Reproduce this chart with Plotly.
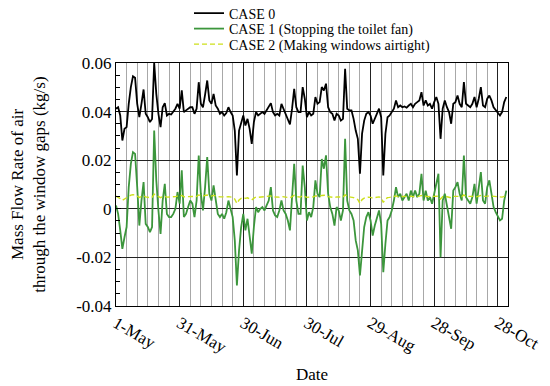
import plotly.graph_objects as go
import pandas as pd

start_date = "2013-05-01"

case0 = [0.0412, 0.0418, 0.0384, 0.0281, 0.0329, 0.0336, 0.0432, 0.0501, 0.0545, 0.0539,
         0.0432, 0.0377, 0.0432, 0.0491, 0.0391, 0.0377, 0.0357, 0.0370, 0.0600, 0.0473,
         0.0391, 0.0336, 0.0418, 0.0435, 0.0384, 0.0391, 0.0388, 0.0398, 0.0412, 0.0432,
         0.0412, 0.0487, 0.0398, 0.0405, 0.0412, 0.0418, 0.0418, 0.0391, 0.0412, 0.0521,
         0.0432, 0.0418, 0.0470, 0.0528, 0.0446, 0.0432, 0.0473, 0.0425, 0.0412, 0.0391,
         0.0398, 0.0384, 0.0394, 0.0418, 0.0398, 0.0384, 0.0322, 0.0137, 0.0322, 0.0357,
         0.0384, 0.0343, 0.0370, 0.0329, 0.0267, 0.0357, 0.0398, 0.0384, 0.0391, 0.0398,
         0.0391, 0.0407, 0.0425, 0.0435, 0.0398, 0.0384, 0.0391, 0.0384, 0.0432, 0.0412,
         0.0391, 0.0370, 0.0347, 0.0412, 0.0494, 0.0418, 0.0398, 0.0398, 0.0501, 0.0453,
         0.0377, 0.0398, 0.0384, 0.0391, 0.0460, 0.0432, 0.0439, 0.0501, 0.0487, 0.0515,
         0.0418, 0.0398, 0.0391, 0.0363, 0.0391, 0.0384, 0.0363, 0.0370, 0.0576, 0.0412,
         0.0405, 0.0405, 0.0370, 0.0322, 0.0288, 0.0144, 0.0309, 0.0363, 0.0391, 0.0398,
         0.0384, 0.0350, 0.0370, 0.0391, 0.0412, 0.0377, 0.0137, 0.0309, 0.0377, 0.0384,
         0.0398, 0.0412, 0.0446, 0.0418, 0.0425, 0.0418, 0.0421, 0.0416, 0.0425, 0.0432,
         0.0418, 0.0432, 0.0439, 0.0446, 0.0480, 0.0425, 0.0446, 0.0425, 0.0432, 0.0412,
         0.0439, 0.0460, 0.0432, 0.0288, 0.0412, 0.0446, 0.0418, 0.0398, 0.0350, 0.0432,
         0.0439, 0.0466, 0.0432, 0.0418, 0.0521, 0.0432, 0.0425, 0.0418, 0.0432, 0.0460,
         0.0418, 0.0453, 0.0501, 0.0425, 0.0418, 0.0453, 0.0466, 0.0446, 0.0418, 0.0407,
         0.0398, 0.0384, 0.0398, 0.0439, 0.0460]

case1 = [0.0014, -0.0021, -0.0089, -0.0165, -0.0117, -0.0075, 0.0089, 0.0185, 0.0233, 0.0226,
         0.0089, -0.0069, 0.0034, 0.0110, -0.0062, -0.0075, -0.0096, -0.0075, 0.0322, 0.0117,
         -0.0007, -0.0103, 0.0034, 0.0103, -0.0021, -0.0034, -0.0034, -0.0021, 0.0000, 0.0069,
         0.0021, 0.0158, -0.0034, -0.0021, 0.0007, 0.0034, 0.0021, -0.0034, 0.0034, 0.0219,
         0.0062, -0.0007, 0.0089, 0.0213, 0.0062, 0.0034, 0.0096, 0.0034, -0.0021, -0.0034,
         -0.0021, -0.0041, -0.0014, 0.0034, -0.0007, -0.0034, -0.0130, -0.0315, -0.0171, -0.0075,
         -0.0021, -0.0089, -0.0041, -0.0123, -0.0185, -0.0075, 0.0007, -0.0014, 0.0000, 0.0007,
         -0.0007, 0.0014, 0.0034, 0.0089, -0.0007, -0.0027, -0.0034, -0.0007, 0.0034, -0.0007,
         -0.0021, -0.0048, -0.0089, 0.0048, 0.0185, 0.0034, -0.0021, -0.0021, 0.0178, 0.0089,
         -0.0048, -0.0014, -0.0034, 0.0007, 0.0117, 0.0062, 0.0048, 0.0205, 0.0165, 0.0220,
         0.0062, 0.0007, -0.0021, -0.0069, 0.0007, -0.0007, -0.0048, -0.0007, 0.0288, 0.0034,
         -0.0007, -0.0021, -0.0048, -0.0130, -0.0171, -0.0274, -0.0171, -0.0075, -0.0034, -0.0014,
         -0.0048, -0.0110, -0.0069, -0.0034, -0.0007, -0.0062, -0.0261, -0.0144, -0.0048, -0.0034,
         -0.0007, 0.0034, 0.0089, 0.0048, 0.0062, 0.0034, 0.0048, 0.0062, 0.0034, 0.0075,
         0.0048, 0.0075, 0.0048, 0.0062, 0.0144, 0.0034, 0.0075, 0.0034, 0.0048, 0.0021,
         0.0062, 0.0103, 0.0144, -0.0199, 0.0034, 0.0062, 0.0014, -0.0021, -0.0082, 0.0075,
         0.0089, 0.0110, 0.0062, 0.0034, 0.0219, 0.0048, 0.0034, 0.0021, 0.0048, 0.0103,
         0.0021, 0.0082, 0.0151, 0.0034, 0.0021, 0.0089, 0.0117, 0.0062, 0.0007, -0.0014,
         -0.0034, -0.0048, -0.0041, 0.0034, 0.0075]

case2 = [0.0052, 0.0048, 0.0042, 0.0035, 0.0040, 0.0046, 0.0052, 0.0056, 0.0058, 0.0057,
         0.0052, 0.0047, 0.0050, 0.0054, 0.0049, 0.0047, 0.0046, 0.0047, 0.0060, 0.0055,
         0.0050, 0.0046, 0.0050, 0.0052, 0.0048, 0.0048, 0.0048, 0.0049, 0.0050, 0.0052,
         0.0050, 0.0055, 0.0049, 0.0050, 0.0051, 0.0052, 0.0051, 0.0049, 0.0051, 0.0057,
         0.0053, 0.0052, 0.0055, 0.0057, 0.0053, 0.0052, 0.0055, 0.0052, 0.0050, 0.0049,
         0.0049, 0.0048, 0.0049, 0.0050, 0.0049, 0.0047, 0.0040, 0.0022, 0.0036, 0.0043,
         0.0046, 0.0043, 0.0045, 0.0041, 0.0036, 0.0044, 0.0048, 0.0047, 0.0048, 0.0048,
         0.0048, 0.0050, 0.0051, 0.0053, 0.0049, 0.0048, 0.0048, 0.0048, 0.0051, 0.0050,
         0.0048, 0.0047, 0.0045, 0.0050, 0.0055, 0.0050, 0.0048, 0.0048, 0.0055, 0.0052,
         0.0047, 0.0048, 0.0048, 0.0049, 0.0053, 0.0051, 0.0052, 0.0055, 0.0054, 0.0056,
         0.0050, 0.0049, 0.0048, 0.0046, 0.0049, 0.0048, 0.0046, 0.0048, 0.0058, 0.0050,
         0.0049, 0.0049, 0.0046, 0.0042, 0.0038, 0.0022, 0.0038, 0.0044, 0.0047, 0.0048,
         0.0047, 0.0044, 0.0046, 0.0048, 0.0049, 0.0046, 0.0026, 0.0040, 0.0046, 0.0047,
         0.0048, 0.0050, 0.0053, 0.0050, 0.0051, 0.0050, 0.0051, 0.0051, 0.0050, 0.0052,
         0.0050, 0.0052, 0.0051, 0.0052, 0.0055, 0.0050, 0.0052, 0.0050, 0.0051, 0.0050,
         0.0052, 0.0053, 0.0052, 0.0040, 0.0050, 0.0052, 0.0050, 0.0048, 0.0045, 0.0051,
         0.0052, 0.0053, 0.0051, 0.0050, 0.0057, 0.0051, 0.0050, 0.0050, 0.0051, 0.0053,
         0.0050, 0.0052, 0.0055, 0.0051, 0.0050, 0.0052, 0.0053, 0.0052, 0.0050, 0.0049,
         0.0048, 0.0047, 0.0048, 0.0051, 0.0053]

series_names = ["CASE 0", "CASE 1 (Stopping the toilet fan)", "CASE 2 (Making windows airtight)"]
y_tick_vals = [-0.04, -0.02, 0, 0.02, 0.04, 0.06]
y_tick_text = ["-0.04", "-0.02", "0", "0.02", "0.04", "0.06"]

dates = pd.date_range(start_date, periods=len(case0), freq="D")

FONT = "Liberation Serif, Times New Roman, serif"

fig = go.Figure()
fig.add_trace(go.Scatter(x=dates, y=case0, mode="lines", name=series_names[0],
                         legend="legend",
                         line=dict(color="#000000", width=1.8)))
fig.add_trace(go.Scatter(x=dates, y=case1, mode="lines", name=series_names[1],
                         legend="legend2",
                         line=dict(color="#3c963c", width=1.8)))
fig.add_trace(go.Scatter(x=dates, y=case2, mode="lines", name=series_names[2],
                         legend="legend3",
                         line=dict(color="#cde01a", width=1.4, dash="5px,3px")))

day_ms = 86400000
# the page body has an 8px offset; plot area in screen pixels: x 116..508, y 63..306
OFF = 8.0
PL, PR, PT, PB = 116.0, 508.0, 63.0, 306.0


def leg(cy):
    return dict(x=(189 - PL) / (PR - PL), y=(PB - cy) / (PB - PT),
                xanchor="left", yanchor="middle",
                font=dict(family=FONT, size=14, color="black"),
                bgcolor="rgba(0,0,0,0)", itemwidth=30)


fig.update_layout(
    width=550, height=386,
    margin=dict(l=PL - OFF, r=550 - PR + OFF, t=PT - OFF, b=386 - PB + OFF, autoexpand=False),
    paper_bgcolor="white", plot_bgcolor="white",
    font=dict(family=FONT, size=17, color="black"),
    showlegend=True,
    legend=leg(13.5),
    legend2=leg(29),
    legend3=leg(44.5),
    xaxis=dict(
        type="date",
        range=["2013-05-01", "2013-11-01 19:00"],
        tick0="2013-05-01", dtick=30 * day_ms,
        tickformat="%-d-%b", tickangle=30,
        showgrid=True, gridcolor="#222222", gridwidth=1,
        minor=dict(dtick=5 * day_ms, tick0="2013-05-01", showgrid=True,
                   gridcolor="#a8a8a8", gridwidth=1),
        showline=True, linecolor="black", linewidth=1, mirror=True,
        ticks="", zeroline=False, automargin=False,
        title=dict(text="Date", font=dict(family=FONT, size=17), standoff=12),
        tickfont=dict(family=FONT, size=17),
    ),
    yaxis=dict(
        range=[-0.04, 0.06],
        tickvals=y_tick_vals, ticktext=y_tick_text,
        showgrid=True, gridcolor="#222222", gridwidth=1,
        zeroline=False, automargin=False,
        showline=True, linecolor="black", linewidth=1, mirror=True,
        ticks="inside", ticklen=5, tickcolor="black",
        minor=dict(dtick=0.005, tick0=0, ticks="inside", ticklen=4, tickcolor="black",
                   showgrid=False),
        title=dict(text="Mass Flow Rate of air<br>through the window gaps (kg/s)",
                   font=dict(family=FONT, size=17), standoff=26),
        tickfont=dict(family=FONT, size=17),
    ),
)

fig.write_html("out.html")
